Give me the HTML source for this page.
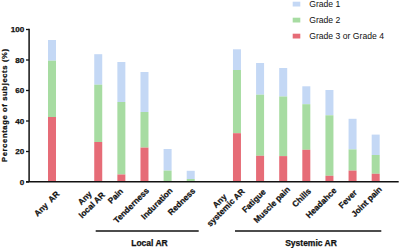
<!DOCTYPE html>
<html><head><meta charset="utf-8"><style>
html,body{margin:0;padding:0;background:#fff;}
svg{display:block;}
text{font-family:"Liberation Sans",sans-serif;fill:#111;white-space:pre;}
.b{font-weight:bold;font-size:8.5px;}
.x{font-weight:bold;font-size:8.3px;}
.t{font-weight:bold;font-size:8.1px;}
.yl{font-weight:bold;font-size:7.6px;}
.b,.x,.t,.yl{stroke:#111;stroke-width:0.25px;}
.l{font-size:8.65px;}
</style></head><body>
<svg width="400" height="248" viewBox="0 0 400 248">
<rect width="400" height="248" fill="#fff"/>
<rect x="48.00" y="40" width="8.0" height="20.700000000000003" fill="#c4d8f5"/>
<rect x="48.00" y="60.7" width="8.0" height="56.3" fill="#a7dca2"/>
<rect x="48.00" y="117" width="8.0" height="65.0" fill="#e66c77"/>
<rect x="94.24" y="54.2" width="8.0" height="30.5" fill="#c4d8f5"/>
<rect x="94.24" y="84.7" width="8.0" height="57.3" fill="#a7dca2"/>
<rect x="94.24" y="142" width="8.0" height="40.0" fill="#e66c77"/>
<rect x="117.36" y="62" width="8.0" height="40" fill="#c4d8f5"/>
<rect x="117.36" y="102" width="8.0" height="72.5" fill="#a7dca2"/>
<rect x="117.36" y="174.5" width="8.0" height="7.5" fill="#e66c77"/>
<rect x="140.48" y="72" width="8.0" height="40" fill="#c4d8f5"/>
<rect x="140.48" y="112" width="8.0" height="35.599999999999994" fill="#a7dca2"/>
<rect x="140.48" y="147.6" width="8.0" height="34.400000000000006" fill="#e66c77"/>
<rect x="163.60" y="149" width="8.0" height="21.599999999999994" fill="#c4d8f5"/>
<rect x="163.60" y="170.6" width="8.0" height="11.400000000000006" fill="#a7dca2"/>
<rect x="186.72" y="170.8" width="8.0" height="8.199999999999989" fill="#c4d8f5"/>
<rect x="186.72" y="179" width="8.0" height="3" fill="#a7dca2"/>
<rect x="232.96" y="49.3" width="8.0" height="20.700000000000003" fill="#c4d8f5"/>
<rect x="232.96" y="70" width="8.0" height="63.19999999999999" fill="#a7dca2"/>
<rect x="232.96" y="133.2" width="8.0" height="48.80000000000001" fill="#e66c77"/>
<rect x="256.08" y="63" width="8.0" height="31.700000000000003" fill="#c4d8f5"/>
<rect x="256.08" y="94.7" width="8.0" height="61.10000000000001" fill="#a7dca2"/>
<rect x="256.08" y="155.8" width="8.0" height="26.19999999999999" fill="#e66c77"/>
<rect x="279.20" y="68" width="8.0" height="28.5" fill="#c4d8f5"/>
<rect x="279.20" y="96.5" width="8.0" height="59.599999999999994" fill="#a7dca2"/>
<rect x="279.20" y="156.1" width="8.0" height="25.900000000000006" fill="#e66c77"/>
<rect x="302.32" y="86.3" width="8.0" height="17.900000000000006" fill="#c4d8f5"/>
<rect x="302.32" y="104.2" width="8.0" height="45.60000000000001" fill="#a7dca2"/>
<rect x="302.32" y="149.8" width="8.0" height="32.19999999999999" fill="#e66c77"/>
<rect x="325.44" y="90" width="8.0" height="25.299999999999997" fill="#c4d8f5"/>
<rect x="325.44" y="115.3" width="8.0" height="60.500000000000014" fill="#a7dca2"/>
<rect x="325.44" y="175.8" width="8.0" height="6.199999999999989" fill="#e66c77"/>
<rect x="348.56" y="118.8" width="8.0" height="30.60000000000001" fill="#c4d8f5"/>
<rect x="348.56" y="149.4" width="8.0" height="21.19999999999999" fill="#a7dca2"/>
<rect x="348.56" y="170.6" width="8.0" height="11.400000000000006" fill="#e66c77"/>
<rect x="371.68" y="134.6" width="8.0" height="20.400000000000006" fill="#c4d8f5"/>
<rect x="371.68" y="155" width="8.0" height="18.80000000000001" fill="#a7dca2"/>
<rect x="371.68" y="173.8" width="8.0" height="8.199999999999989" fill="#e66c77"/>
<path d="M29.1 28.85 V181.8" fill="none" stroke="#111" stroke-width="1.5"/>
<path d="M26 181.8 H398.7" fill="none" stroke="#111" stroke-width="1.5"/>
<path d="M26 29.5 H29" stroke="#111" stroke-width="1.3"/>
<text class="t" x="24.3" y="32.4" text-anchor="end">100</text>
<path d="M26 60 H29" stroke="#111" stroke-width="1.3"/>
<text class="t" x="24.3" y="62.9" text-anchor="end">80</text>
<path d="M26 90.5 H29" stroke="#111" stroke-width="1.3"/>
<text class="t" x="24.3" y="93.4" text-anchor="end">60</text>
<path d="M26 121 H29" stroke="#111" stroke-width="1.3"/>
<text class="t" x="24.3" y="123.9" text-anchor="end">40</text>
<path d="M26 151.5 H29" stroke="#111" stroke-width="1.3"/>
<text class="t" x="24.3" y="154.4" text-anchor="end">20</text>
<path d="M26 182 H29" stroke="#111" stroke-width="1.3"/>
<text class="t" x="24.3" y="184.9" text-anchor="end">0</text>
<text class="yl" transform="translate(7.2,105.5) rotate(-90)" text-anchor="middle" textLength="113" lengthAdjust="spacing">Percentage of subjects (%)</text>
<text class="x" transform="translate(60.10,194.50) rotate(-45)" text-anchor="end">Any  AR</text>
<g transform="translate(98.34,188.40) rotate(-45)"><text class="x" x="0" y="10" text-anchor="end">local AR</text><text class="x" x="-16.45" y="0" text-anchor="middle">Any</text></g>
<text class="x" transform="translate(123.66,191.80) rotate(-45)" text-anchor="end">Pain</text>
<text class="x" transform="translate(149.58,191.20) rotate(-45)" text-anchor="end">Tenderness</text>
<text class="x" transform="translate(173.20,191.25) rotate(-45)" text-anchor="end">Induration</text>
<text class="x" transform="translate(195.82,191.40) rotate(-45)" text-anchor="end">Redness</text>
<g transform="translate(238.16,184.90) rotate(-45)"><text class="x" x="0" y="10" text-anchor="end">systemic AR</text><text class="x" x="-24.36" y="1.0" text-anchor="middle">Any</text></g>
<text class="x" transform="translate(266.38,192.40) rotate(-45)" text-anchor="end">Fatigue</text>
<text class="x" transform="translate(290.60,190.00) rotate(-45)" text-anchor="end">Muscle pain</text>
<text class="x" transform="translate(311.57,191.75) rotate(-45)" text-anchor="end">Chills</text>
<text class="x" transform="translate(337.04,191.10) rotate(-45)" text-anchor="end">Headahce</text>
<text class="x" transform="translate(357.56,193.30) rotate(-45)" text-anchor="end">Fever</text>
<text class="x" transform="translate(382.38,189.80) rotate(-45)" text-anchor="end">Joint pain</text>
<path d="M95.7 230.95 H198.7" stroke="#111" stroke-width="1.5"/>
<path d="M235 230.95 H381.3" stroke="#111" stroke-width="1.5"/>
<text class="b" x="149.5" y="245.6" text-anchor="middle">Local AR</text>
<text class="b" x="311" y="245.7" text-anchor="middle">Systemic AR</text>
<rect x="292.7" y="1.7000000000000002" width="7.6" height="4.8" fill="#c4d8f5"/>
<text class="l" x="309.2" y="7.1">Grade 1</text>
<rect x="292.7" y="17.7" width="7.6" height="4.8" fill="#a7dca2"/>
<text class="l" x="309.2" y="23.1">Grade 2</text>
<rect x="292.7" y="33.7" width="7.6" height="4.8" fill="#e66c77"/>
<text class="l" x="309.2" y="39.1">Grade 3 or Grade 4</text>
</svg></body></html>
